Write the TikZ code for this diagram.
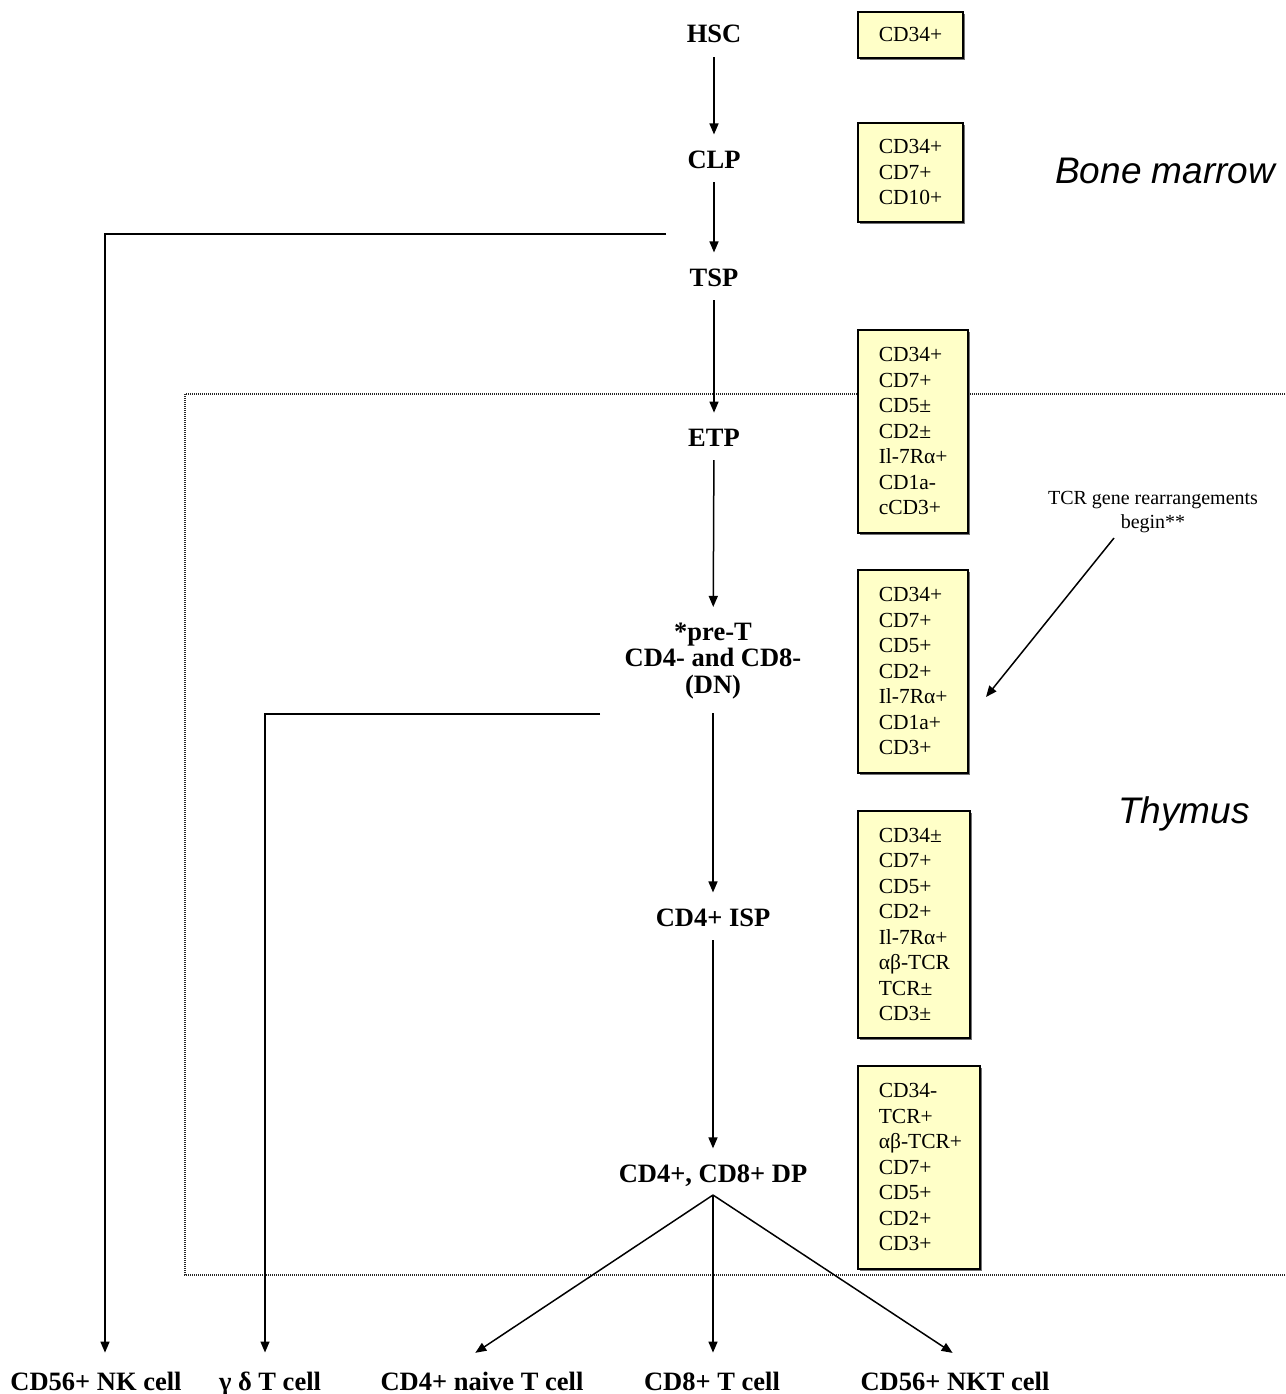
\documentclass[tikz,border=0pt]{standalone}
\usepackage{fontspec}
\setmainfont{Liberation Serif}
\newfontfamily\arialfont{Liberation Sans}
\usetikzlibrary{arrows.meta,shadows,calc}
\definecolor{boxfill}{HTML}{FFFFC8}
\begin{document}
\begin{tikzpicture}[x=1pt,y=-1pt,
  stage/.style={inner sep=0pt,outer sep=0pt,font=\fontsize{26.5}{26.5}\selectfont\bfseries,align=center},
  marker/.style={draw=black,line width=1.6pt,fill=boxfill,anchor=north west,
     inner xsep=21pt,inner ysep=0pt,align=left,
     font=\fontsize{21.5}{25.5}\selectfont,
     drop shadow={shadow xshift=2pt,shadow yshift=-2pt,fill=black!55,opacity=1}},
  region/.style={inner sep=0pt,anchor=base west,font=\arialfont\itshape\fontsize{37}{40}\selectfont},
  arr/.style={line width=1.5pt,-{Triangle[length=11pt,width=9pt]}},
  zone/.style={line width=1.3pt,black!85,dash pattern=on 1pt off 1pt},
  note/.style={inner sep=0pt,align=center,font=\fontsize{20}{24}\selectfont},
  vflow/.style={arr,shorten <=14pt,shorten >=16pt}]
\useasboundingbox (0,0) rectangle (1285,1394);
% thymus region (dotted)
\draw[zone] (1285,394) -- (185,394) -- (185,1275) -- (1285,1275);
% stages
\node[stage,anchor=base] (hsc) at (714,43) {HSC};
\node[stage,anchor=base] (clp) at (714,168) {CLP};
\node[stage,anchor=base] (tsp) at (714,286) {TSP};
\node[stage,anchor=base] (etp) at (714,446) {ETP};
\node[stage] (pret) at (713,661) {*pre-T\\CD4- and CD8-\\(DN)};
\node[stage,anchor=base] (isp) at (713,926) {CD4+ ISP};
\node[stage,anchor=base] (dp) at (713,1182) {CD4+, CD8+ DP};
\coordinate (split) at (713,1195);
% outcomes
\node[stage,anchor=base] (nk) at (96,1390) {CD56+ NK cell};
\node[stage,anchor=base] (gd) at (270,1390) {γ δ T cell};
\node[stage,anchor=base] (naive) at (482,1390) {CD4+ naive T cell};
\node[stage,anchor=base] (cd8) at (712,1390) {CD8+ T cell};
\node[stage,anchor=base] (nkt) at (955,1390) {CD56+ NKT cell};
% marker boxes
\node[marker,text width=63pt,minimum height=46pt] (m1) at (857,11) {CD34+};
\node[marker,text width=63pt,minimum height=99pt] (m2) at (857,122) {CD34+\\CD7+\\CD10+};
\node[marker,text width=68pt,minimum height=203pt] (m3) at (857,329) {CD34+\\CD7+\\CD5±\\CD2±\\\mbox{Il-7Rα+}\\CD1a-\\cCD3+};
\node[marker,text width=68pt,minimum height=203pt] (m4) at (857,569) {CD34+\\CD7+\\CD5+\\CD2+\\\mbox{Il-7Rα+}\\CD1a+\\CD3+};
\node[marker,text width=70pt,minimum height=227pt] (m5) at (857,810) {CD34±\\CD7+\\CD5+\\CD2+\\\mbox{Il-7Rα+}\\\mbox{αβ-TCR}\\TCR±\\CD3±};
\node[marker,text width=80pt,minimum height=203pt] (m6) at (857,1065) {CD34-\\TCR+\\\mbox{αβ-TCR+}\\CD7+\\CD5+\\CD2+\\CD3+};
% regions
\node[region] (bm) at (1055,183) {Bone marrow};
\node[region] (thy) at (1118,823) {Thymus};
% TCR note
\node[note,anchor=south] (tcr) at (1153,533) {TCR gene rearrangements\\begin**};
\coordinate (tcrtip) at (986,697);
\draw[arr] ($(tcr.south)+(-39,5)$) -- (tcrtip);
% main flow
\draw[vflow] (hsc) -- (clp);
\draw[vflow] (clp) -- (tsp);
\draw[vflow] (tsp) -- (etp);
\draw[vflow] (etp) -- (pret);
\draw[vflow] (pret) -- (isp);
\draw[vflow] (isp) -- (dp);
% branches
\coordinate (nkstart) at (666,234);
\coordinate (gdstart) at (600,714);
\draw[arr,shorten >=19pt] (nkstart) -| ([xshift=9pt]nk.north);
\draw[arr,shorten >=19pt] (gdstart) -| ([xshift=-5pt]gd.north);
% DP split
\draw[arr,shorten >=34pt] (split) -- ([xshift=-35pt]naive.north);
\draw[arr,shorten >=19pt] (split) -- (cd8.north -| split);
\draw[arr,shorten >=34pt] (split) -- ([xshift=26pt]nkt.north);
\end{tikzpicture}
\end{document}
